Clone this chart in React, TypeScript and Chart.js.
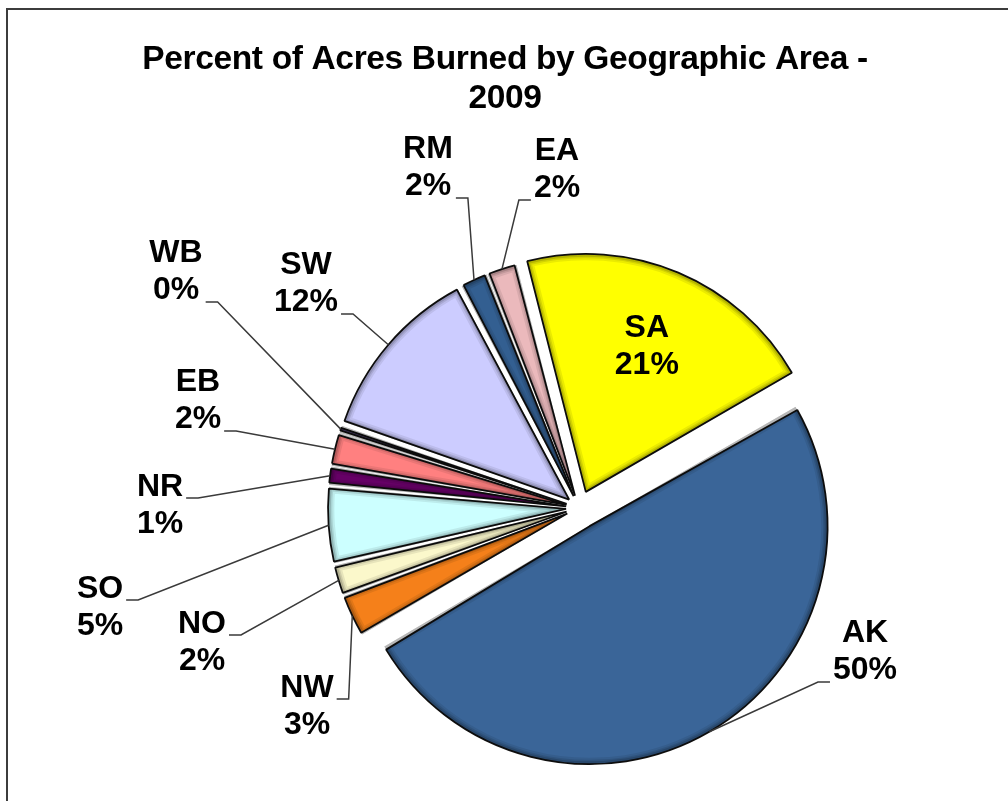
import React, { useEffect, useRef } from 'react';
import { Chart, registerables } from 'chart.js';

Chart.register(...registerables);

// ---- data ----
const TITLE_LINES = ['Percent of Acres Burned by Geographic Area -', '2009'];
const AREAS = ['AK', 'NW', 'NO', 'SO', 'NR', 'EB', 'WB', 'SW', 'RM', 'EA', 'SA'];
const PERCENT_BURNED = [49.8, 2.8, 2.0, 5.1, 1.2, 2.2, 0.45, 11.9, 1.8, 2.0, 20.6];

// ---- styling / layout ----
const SLICE_COLORS = [
  '#3A6598', '#F5801A', '#FBF8CB', '#CCFFFF', '#660066', '#FF8080',
  '#4B3D6E', '#CCCCFF', '#335F91', '#EBB9BC', '#FFFF00',
];
// Chart.js offset units (drawn shift = offset / 4)
const EXPLODE = [84, 52, 52, 52, 52, 52, 52, 52, 52, 52, 70];
// centre of each outside label block (null = label inside the slice)
const LABEL_POS: ([number, number] | null)[] = [
  [865, 652], [307, 707], [202, 643], [100, 608], [160, 506], [198, 401],
  [176, 272], [306, 284], [428, 168], [557, 170], null,
];

const W = 1008;
const H = 801;
const PIE_RADIUS = 238;
const FONT = '"Liberation Sans", Arial, Helvetica, sans-serif';

export default function App() {
  const canvasRef = useRef<HTMLCanvasElement>(null);

  useEffect(() => {
    const canvas = canvasRef.current;
    if (!canvas) return;
    const total = PERCENT_BURNED.reduce((a, b) => a + b, 0);

    // keep every exploded slice at the same visible radius
    const radiusFix = {
      id: 'radiusFix',
      afterDatasetUpdate(chart: any, args: any) {
        args.meta.data.forEach((arc: any, i: number) => {
          const shift = EXPLODE[i] / 4;
          const fix = 1 - Math.sin(Math.min(Math.PI, arc.circumference || 0));
          arc.outerRadius = PIE_RADIUS - shift * fix;
        });
      },
    };

    // soft inner shading along slice edges (bevel look)
    const bevel = {
      id: 'bevel',
      afterDatasetDraw(chart: any, args: any) {
        const ctx = chart.ctx;
        args.meta.data.forEach((arc: any, i: number) => {
          const orig = arc.options;
          const ox = arc.x, oy = arc.y, oR = arc.outerRadius;
          const mid = (arc.startAngle + arc.endAngle) / 2;
          const shift = EXPLODE[i] / 4;
          arc.x = ox + Math.cos(mid) * shift;
          arc.y = oy + Math.sin(mid) * shift;
          arc.outerRadius = PIE_RADIUS;
          const passes: [number, number][] = [[6, 0.08], [4, 0.1], [2.5, 0.14]];
          passes.forEach(([w, a]) => {
            arc.options = Object.assign({}, orig, {
              backgroundColor: 'rgba(0,0,0,0)',
              borderColor: `rgba(0,0,0,${a})`,
              borderWidth: w,
              borderAlign: 'inner',
              borderJoinStyle: 'round',
              offset: 0,
            });
            arc.draw(ctx);
          });
          arc.options = orig;
          arc.x = ox;
          arc.y = oy;
          arc.outerRadius = oR;
        });
      },
    };

    const labels = {
      id: 'sliceLabels',
      afterDatasetsDraw(chart: any) {
        const ctx = chart.ctx;
        const meta = chart.getDatasetMeta(0);
        ctx.save();
        ctx.font = `bold 32px ${FONT}`;
        ctx.fillStyle = '#000';
        ctx.textAlign = 'center';
        ctx.textBaseline = 'middle';
        meta.data.forEach((arc: any, i: number) => {
          const mid = (arc.startAngle + arc.endAngle) / 2;
          const shift = EXPLODE[i] / 4;
          const cx = arc.x + Math.cos(mid) * shift;
          const cy = arc.y + Math.sin(mid) * shift;
          const lines = [AREAS[i], Math.round((PERCENT_BURNED[i] / total) * 100) + '%'];
          const pos = LABEL_POS[i];
          let lx: number;
          let ly: number;
          if (!pos) {
            lx = cx + Math.cos(mid) * PIE_RADIUS * 0.66;
            ly = cy + Math.sin(mid) * PIE_RADIUS * 0.66;
          } else {
            lx = pos[0];
            ly = pos[1];
            const px = cx + Math.cos(mid) * PIE_RADIUS;
            const py = cy + Math.sin(mid) * PIE_RADIUS;
            const halfW = Math.max(...lines.map((t) => ctx.measureText(t).width)) / 2;
            const dir = px > lx ? 1 : -1;
            const sx = lx + dir * (halfW + 3);
            const sy = py > ly + 20 ? ly + 30 : ly - 8;
            ctx.beginPath();
            ctx.moveTo(sx, sy);
            ctx.lineTo(sx + dir * 12, sy);
            ctx.lineTo(px, py);
            ctx.strokeStyle = '#3a3a3a';
            ctx.lineWidth = 1.5;
            ctx.stroke();
          }
          ctx.fillText(lines[0], lx, ly - 18.5);
          ctx.fillText(lines[1], lx, ly + 18.5);
        });
        ctx.restore();
      },
      afterDraw(chart: any) {
        const ctx = chart.ctx;
        ctx.save();
        ctx.font = `bold 33.5px ${FONT}`;
        try {
          (ctx as any).letterSpacing = '-0.35px';
        } catch (e) {
          /* ignore */
        }
        ctx.fillStyle = '#000';
        ctx.textAlign = 'center';
        ctx.textBaseline = 'alphabetic';
        ctx.fillText(TITLE_LINES[0], 505, 69);
        ctx.fillText(TITLE_LINES[1], 505, 108);
        ctx.restore();
      },
    };

    const chart = new Chart(canvas, {
      type: 'pie',
      data: {
        labels: AREAS,
        datasets: [
          {
            data: PERCENT_BURNED,
            backgroundColor: SLICE_COLORS,
            borderColor: '#111',
            borderWidth: 1.8,
            offset: EXPLODE,
          },
        ],
      },
      options: {
        responsive: false,
        animation: false,
        events: [],
        rotation: 60,
        radius: PIE_RADIUS,
        layout: { padding: { left: 150, right: 0, top: 215, bottom: 0 } },
        plugins: {
          legend: { display: false },
          title: { display: false },
          tooltip: { enabled: false },
        },
      } as any,
      plugins: [radiusFix, bevel, labels],
    });
    return () => chart.destroy();
  }, []);

  return (
    <div
      style={{
        position: 'fixed',
        left: 0,
        top: 0,
        width: W,
        height: H,
        background: '#fff',
        overflow: 'hidden',
      }}
    >
      <div
        style={{
          position: 'absolute',
          left: 6,
          top: 8,
          width: W,
          height: H,
          borderLeft: '2px solid #3c3c3c',
          borderTop: '2px solid #3c3c3c',
        }}
      />
      <canvas
        ref={canvasRef}
        width={W}
        height={H}
        style={{ position: 'absolute', left: 0, top: 0 }}
      />
    </div>
  );
}
